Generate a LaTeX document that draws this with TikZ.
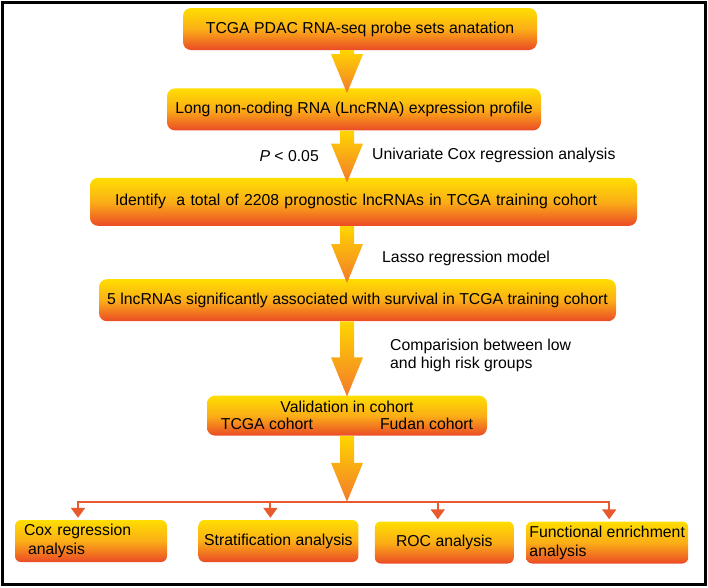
\documentclass[tikz,border=0pt]{standalone}
\usepackage{fontspec}
\setmainfont{Liberation Sans}
\usetikzlibrary{positioning,calc,arrows.meta}

\definecolor{boxtop}{HTML}{FFDE00}
\definecolor{boxmid}{HTML}{FBAE17}
\definecolor{boxbot}{HTML}{EB4A26}
\definecolor{arrtop}{HTML}{FFD500}
\definecolor{arrbot}{HTML}{F27A2B}
\definecolor{branchred}{HTML}{E85A2E}

\tikzset{
  stage/.style={rectangle, rounded corners=8pt, top color=boxtop, bottom color=boxbot, middle color=boxmid,
    minimum height=42pt, inner sep=4pt, font=\fontsize{15.8}{17}\selectfont},
  result/.style={stage, rounded corners=6pt, font=\fontsize{15.8}{19}\selectfont},
  bigarrow/.style={top color=arrtop, bottom color=arrbot},
  branch/.style={draw=branchred, line width=2pt, -{Triangle[width=14pt,length=10pt]}, shorten >=2pt},
  note/.style={font=\fontsize{15.8}{18}\selectfont, inner sep=0pt}
}

% block arrow, shaft from #1 down to the tip #2
\newcommand{\flowarrow}[2]{%
  \path[bigarrow] let \p1=(#1), \p2=(#2) in
    (\x1-7pt,\y1) -- (\x1+7pt,\y1) -- (\x1+7pt,\y2+39pt) -- (\x1+16pt,\y2+39pt)
    -- (\x1,\y2) -- (\x1-16pt,\y2+39pt) -- (\x1-7pt,\y2+39pt) -- cycle;}

\begin{document}
\begin{tikzpicture}
\useasboundingbox (0,0) rectangle (708pt,-587pt);
\draw[line width=3pt] (2pt,-2pt) rectangle (705pt,-584pt);
\coordinate (axis) at (347pt,0);

% main column
\node[stage, minimum width=354pt] (probe) at (360pt,-29pt) {TCGA PDAC RNA-seq probe sets anatation};
\node[stage, minimum width=374pt, below=38pt of probe, xshift=-6pt] (profile) {Long non-coding RNA (LncRNA) expression profile};
\node[stage, minimum height=48pt, text width=497pt, align=left, inner xsep=25pt, below=47pt of profile, xshift=9.5pt] (ident) {Identify\ \ a total of 2208 prognostic lncRNAs in TCGA training cohort};
\node[stage, minimum width=517pt, below=53pt of ident, xshift=-6pt] (signature) {5 lncRNAs significantly associated with survival in TCGA training cohort};
\node[stage, minimum width=280pt, minimum height=40pt, inner ysep=2pt, align=center, below=74pt of signature, xshift=-10.5pt] (valid) {Validation in cohort\\TCGA cohort\hspace{67pt}Fudan cohort};
\coordinate (fork) at ($(valid.south -| axis)+(0,-66pt)$);

% analyses
\node[result, text width=134pt, align=left, inner xsep=9pt] (cox) at (91pt,-541pt) {Cox regression\\\hspace*{4pt}analysis};
\node[result, minimum width=160pt, right=31pt of cox] (strat) {Stratification analysis};
\node[result, minimum width=139pt, right=16pt of strat, yshift=-1.5pt] (roc) {ROC analysis};
\node[result, minimum width=162pt, align=left, inner xsep=2pt, right=12pt of roc] (enrich) {Functional enrichment\\analysis};

% labels beside the arrows
\node[note, anchor=east] (pval) at ($(profile.south -| axis)+(-28pt,-25pt)$) {\textit{P} < 0.05};
\node[note, anchor=west] (univar) at ($(profile.south -| axis)+(25pt,-25pt)$) {Univariate Cox regression analysis};
\node[note, anchor=west] (lasso) at ($(ident.south -| axis)+(35pt,-32pt)$) {Lasso regression model};
\node[note, anchor=west, align=left] (compare) at ($(signature.south -| axis)+(43pt,-34pt)$) {Comparision between low\\and high risk groups};

% branches
\draw[branch] (fork) -| ([xshift=-13pt]cox.north);
\draw[branch] (fork) -| ([xshift=-8pt]strat.north);
\draw[branch] (fork) -| ([xshift=-6.5pt]roc.north);
\draw[branch] (fork) -| ([xshift=2pt]enrich.north);

% block arrows
\flowarrow{probe.south -| axis}{$(profile.north -| axis)+(0,-5pt)$}
\flowarrow{profile.south -| axis}{$(ident.north -| axis)+(0,-5pt)$}
\flowarrow{ident.south -| axis}{$(signature.north -| axis)+(0,-4pt)$}
\flowarrow{signature.south -| axis}{$(valid.north -| axis)+(0,-1pt)$}
\flowarrow{valid.south -| axis}{fork}
\end{tikzpicture}
\end{document}
